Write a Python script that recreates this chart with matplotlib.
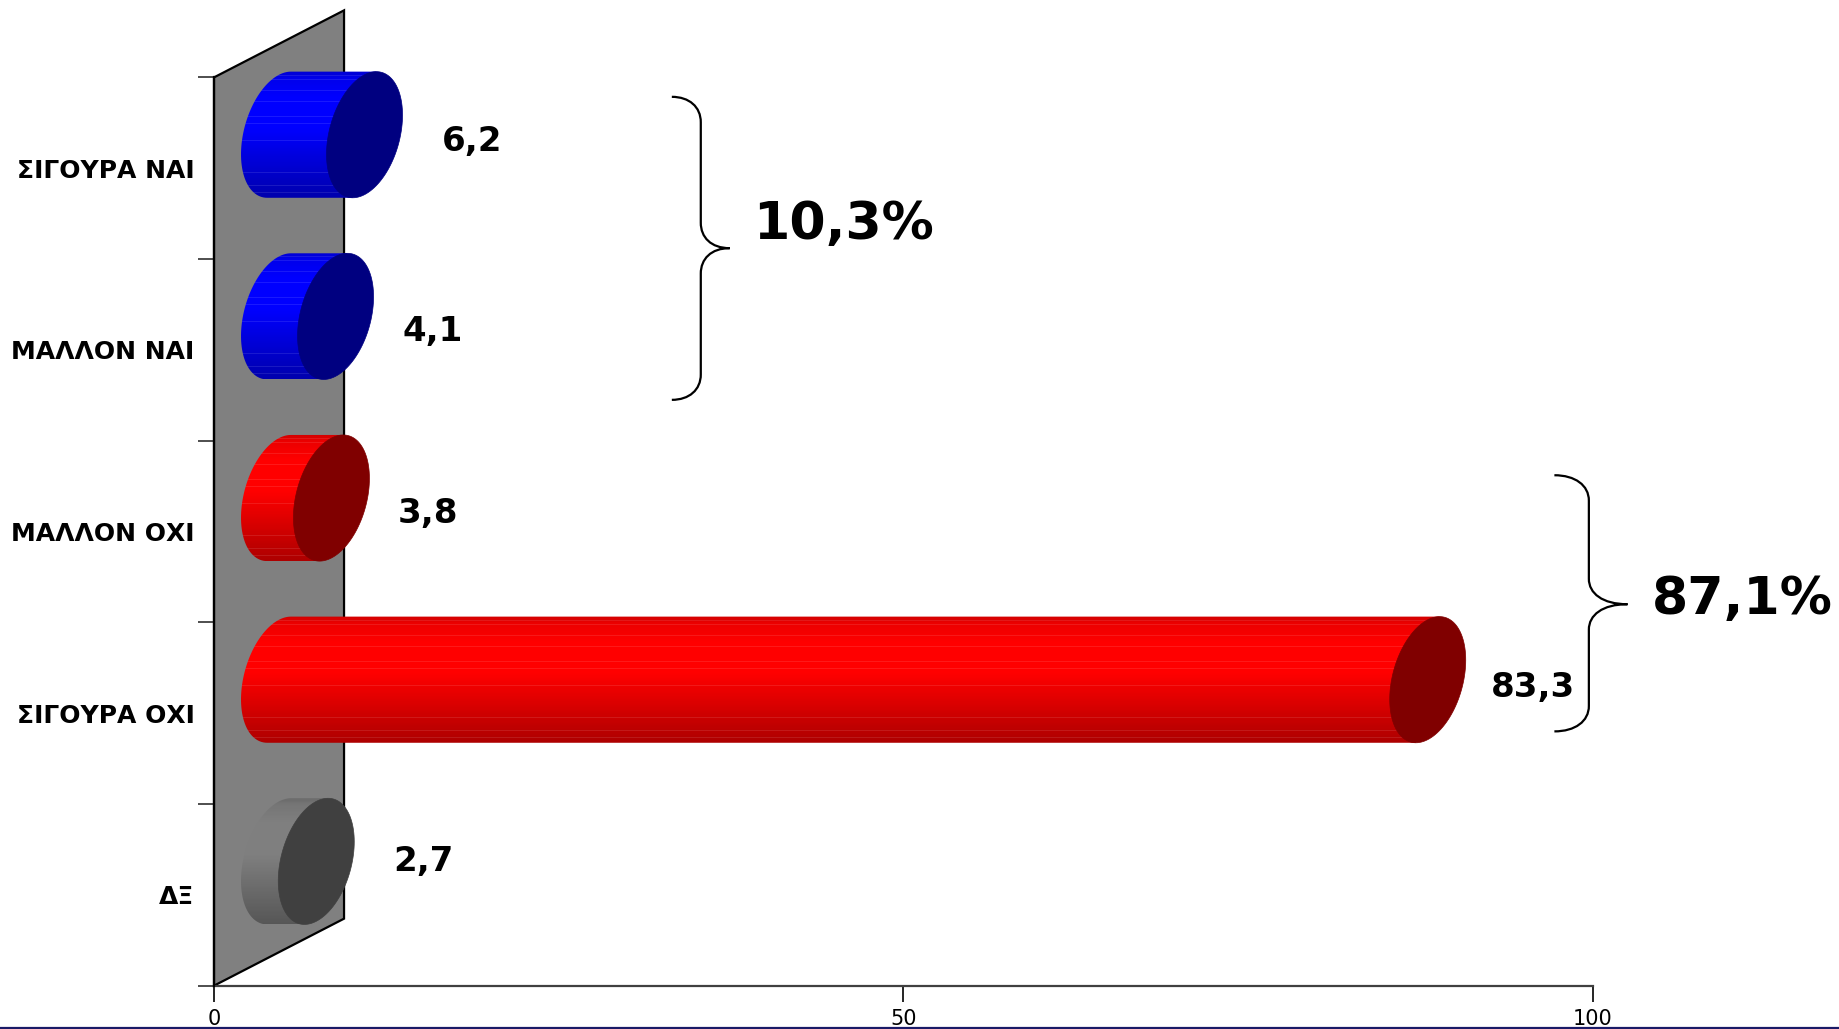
import matplotlib
matplotlib.use('Agg')
import matplotlib.pyplot as plt
from matplotlib.lines import Line2D
from matplotlib.patches import Polygon, PathPatch
from matplotlib.path import Path
import numpy as np

# %%
categories = ['ΣΙΓΟΥΡΑ ΝΑΙ', 'ΜΑΛΛΟΝ ΝΑΙ', 'ΜΑΛΛΟΝ ΟΧΙ', 'ΣΙΓΟΥΡΑ ΟΧΙ', 'ΔΞ']
values = [6.2, 4.1, 3.8, 83.3, 2.7]
value_labels = ['6,2', '4,1', '3,8', '83,3', '2,7']
group_labels = ['10,3%', '87,1%']
x_ticks = [0, 50, 100]

body_colors = [(0, 0, 1), (0, 0, 1), (1, 0, 0), (1, 0, 0), (0.5, 0.5, 0.5)]
cap_colors = ['#000080', '#000080', '#800000', '#800000', '#404040']
streaked = [True, True, True, True, False]

# 3d look, in data units
depth_x, depth_y = 9.43, 0.369
cap_a, cap_b, cap_c = 2.756, 0.33, 0.108

W, H = 1839, 1029
x0_px, x100_px, top_px, base_px = 214, 1593, 77.4, 985.7

# pixel positions of the hand placed labels
value_label_px = [(442, 142), (402, 332), (398, 513), (1491, 688), (393, 862)]
group_label_px = [(753, 225), (1652, 600)]

fig = plt.figure(figsize=(W / 100, H / 100), dpi=100)
ax = fig.add_axes([x0_px / W, 1 - base_px / H, (x100_px - x0_px) / W, (base_px - top_px) / H])
ax.set_xlim(0, 100)
ax.set_ylim(5, 0)

# %%
# back wall
wall = Polygon([(0, 0), (depth_x, -depth_y), (depth_x, 5 - depth_y), (0, 5)],
               facecolor='#808080', edgecolor='black', linewidth=1.6, clip_on=False, zorder=1)
ax.add_patch(wall)


def ellipse(xc, yc, t):
    return xc + cap_a * np.cos(t), yc + cap_b * np.sin(t) - cap_c * np.cos(t)


def shade_column(color, streaks):
    # vertical shading of a bar, dark at the edges and brightest above the middle
    n = 107
    frac = np.linspace(0, 1, n)
    k = np.interp(frac, [0, 0.05, 0.2, 0.45, 1], [0.82, 0.92, 1, 1, 0.68])
    img = np.outer(k, color)[:, None, :]
    if streaks:
        for f in [0.03, 0.07, 0.15, 0.24, 0.36, 0.42, 0.55, 0.8, 0.9, 0.96]:
            row = int(f * n)
            img[row, 0, :] = img[row, 0, :] * 0.9 + 0.1
    return img


t_top = np.arctan2(-cap_b, cap_c)
half = np.linspace(t_top, t_top - np.pi, 60)
full = np.linspace(0, 2 * np.pi, 120)

for i, v in enumerate(values):
    xc0 = depth_x / 2
    xc1 = xc0 + v
    yc = i + 0.5 - depth_y / 2

    # body outline: left half of the base ellipse then across to the end ellipse
    bx, by = ellipse(xc0, yc, half)
    ex, ey = ellipse(xc1, yc, np.array([t_top - np.pi, t_top]))
    outline = Polygon(np.column_stack([np.r_[bx, ex], np.r_[by, ey]]), closed=True,
                      facecolor='none', edgecolor='none', transform=ax.transData)
    ax.add_patch(outline)
    outline.set_clip_on(False)

    y_lo, y_hi = yc - np.hypot(cap_b, cap_c), yc + np.hypot(cap_b, cap_c)
    im = ax.imshow(shade_column(np.array(body_colors[i]), streaked[i]),
                   extent=(xc0 - cap_a, xc1 + cap_a, y_hi, y_lo),
                   aspect='auto', interpolation='nearest', zorder=2)
    im.set_clip_box(fig.bbox)
    im.set_clip_path(outline)

    cx, cy = ellipse(xc1, yc, full)
    ax.fill(cx, cy, color=cap_colors[i], linewidth=0.5, clip_on=False, zorder=3)

ax.set_xlim(0, 100)
ax.set_ylim(5, 0)

# %%
# axes
for s in ['top', 'right']:
    ax.spines[s].set_visible(False)
ax.spines['left'].set_linewidth(1.6)
ax.spines['left'].set_zorder(4)
ax.spines['bottom'].set_color('#404040')
ax.spines['bottom'].set_linewidth(1.6)

ax.set_xticks(x_ticks)
ax.set_xticklabels([str(t) for t in x_ticks], fontsize=15)
ax.tick_params(axis='x', length=11.5, width=1.2, pad=5)

ax.set_yticks(np.arange(6))
ax.set_yticklabels([])
ax.tick_params(axis='y', which='major', length=11.5, width=1.2, color='#303030')
ax.set_yticks(np.arange(5) + 0.5, minor=True)
ax.set_yticklabels(categories, minor=True, fontsize=18, fontweight='bold')
ax.tick_params(axis='y', which='minor', length=0, pad=14)

# value labels
for (px, py), s in zip(value_label_px, value_labels):
    fig.text(px / W, 1 - py / H, s, fontsize=24.5, fontweight='bold', ha='left', va='center')
for (px, py), s in zip(group_label_px, group_labels):
    fig.text(px / W, 1 - py / H, s, fontsize=37.5, fontweight='bold', ha='left', va='center')


# %%
def brace(x_end, x_mid, x_tip, y_top, y_bot, y_tip):
    r_y = 0.14
    span = x_mid - x_end
    tip = x_tip - x_mid
    verts = [(x_end, y_top),
             (x_end + 0.6 * span, y_top), (x_mid, y_top + 0.055), (x_mid, y_top + r_y),
             (x_mid, y_tip - r_y),
             (x_mid, y_tip - 0.06), (x_mid + 0.35 * tip, y_tip), (x_tip, y_tip),
             (x_mid + 0.35 * tip, y_tip), (x_mid, y_tip + 0.06), (x_mid, y_tip + r_y),
             (x_mid, y_bot - r_y),
             (x_mid, y_bot - 0.055), (x_end + 0.6 * span, y_bot), (x_end, y_bot)]
    codes = [Path.MOVETO, Path.CURVE4, Path.CURVE4, Path.CURVE4, Path.LINETO,
             Path.CURVE4, Path.CURVE4, Path.CURVE4, Path.CURVE4, Path.CURVE4, Path.CURVE4,
             Path.LINETO, Path.CURVE4, Path.CURVE4, Path.CURVE4]
    ax.add_patch(PathPatch(Path(verts, codes), facecolor='none', edgecolor='black',
                           linewidth=1.6, clip_on=False))


brace(33.2, 35.3, 37.4, 0.107, 1.775, 0.94)
brace(97.2, 99.7, 102.5, 2.19, 3.6, 2.9)

# dark line along the lower edge of the slide
fig.add_artist(Line2D([0, 1], [0.0012, 0.0012], color='#1a1a66', linewidth=1.6))

fig.savefig('out.png', dpi=100)
